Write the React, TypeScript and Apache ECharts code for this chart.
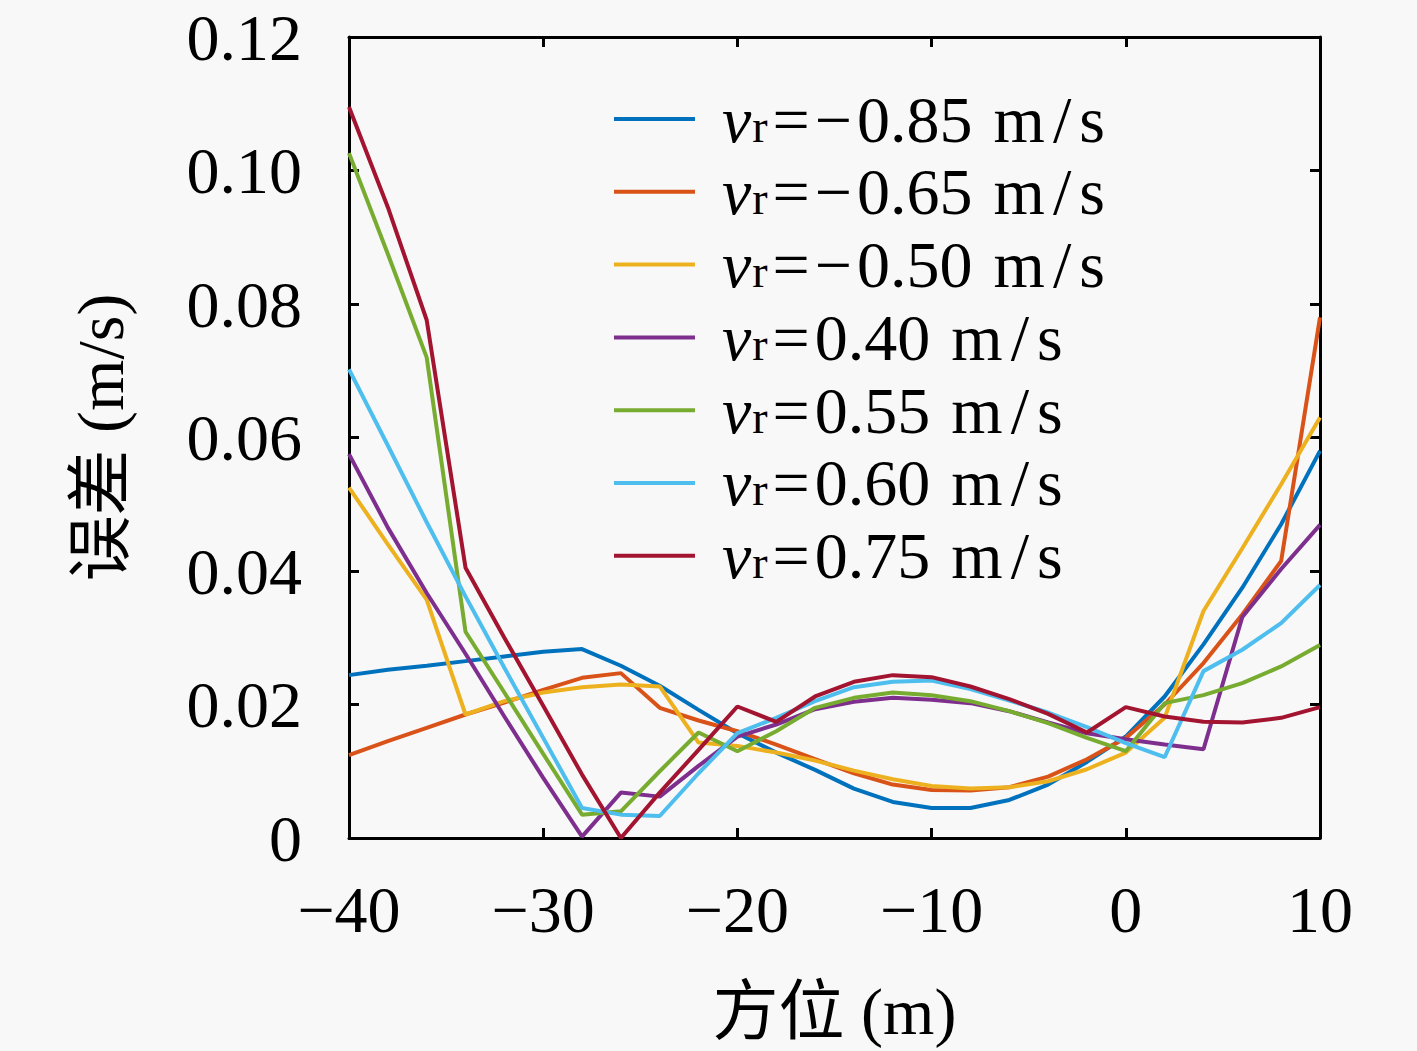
import React, { useEffect, useRef } from "react";
import * as echarts from "echarts";

const xValues = [-40, -38, -36, -34, -32, -30, -28, -26, -24, -22, -20, -18, -16, -14, -12, -10, -8, -6, -4, -2, 0, 2, 4, 6, 8, 10];

const speedLabels = ["−0.85", "−0.65", "−0.50", "0.40", "0.55", "0.60", "0.75"];

const errN085 = [0.0244, 0.0252, 0.0258, 0.0265, 0.0272, 0.0279, 0.0283, 0.0258, 0.0228, 0.0192, 0.0157, 0.0128, 0.0102, 0.0074, 0.0054, 0.0045, 0.0045, 0.0057, 0.0080, 0.0114, 0.0152, 0.0212, 0.0290, 0.0375, 0.0470, 0.0580];
const errN065 = [0.0124, 0.0145, 0.0165, 0.0185, 0.0203, 0.0222, 0.0240, 0.0247, 0.0195, 0.0176, 0.0160, 0.0140, 0.0118, 0.0097, 0.0080, 0.0072, 0.0071, 0.0076, 0.0092, 0.0118, 0.0150, 0.0200, 0.0262, 0.0335, 0.0415, 0.0780];
const errN050 = [0.0525, 0.0440, 0.0357, 0.0185, 0.0205, 0.0218, 0.0226, 0.0230, 0.0227, 0.0143, 0.0138, 0.0128, 0.0116, 0.0101, 0.0088, 0.0078, 0.0074, 0.0076, 0.0085, 0.0103, 0.0128, 0.0180, 0.0340, 0.0434, 0.0530, 0.0630];
const errP040 = [0.0575, 0.0465, 0.0367, 0.0276, 0.0182, 0.0090, 0.0002, 0.0068, 0.0062, 0.0108, 0.0152, 0.0170, 0.0193, 0.0204, 0.0210, 0.0207, 0.0202, 0.0190, 0.0173, 0.0157, 0.0148, 0.0140, 0.0133, 0.0331, 0.0403, 0.0469];
const errP055 = [0.1026, 0.0875, 0.0720, 0.0309, 0.0218, 0.0126, 0.0035, 0.0040, 0.0100, 0.0158, 0.0130, 0.0160, 0.0195, 0.0210, 0.0218, 0.0214, 0.0205, 0.0190, 0.0172, 0.0150, 0.0130, 0.0202, 0.0214, 0.0232, 0.0257, 0.0289];
const errP060 = [0.0702, 0.0588, 0.0473, 0.0362, 0.0255, 0.0150, 0.0045, 0.0035, 0.0033, 0.0097, 0.0157, 0.0180, 0.0205, 0.0226, 0.0234, 0.0236, 0.0223, 0.0206, 0.0188, 0.0166, 0.0142, 0.0121, 0.0250, 0.0282, 0.0322, 0.0379];
const errP075 = [0.1095, 0.0945, 0.0776, 0.0405, 0.0300, 0.0198, 0.0095, 0.0000, 0.0068, 0.0132, 0.0197, 0.0174, 0.0212, 0.0234, 0.0244, 0.0241, 0.0227, 0.0208, 0.0186, 0.0158, 0.0196, 0.0182, 0.0174, 0.0173, 0.0180, 0.0196];

const seriesValues = [errN085, errN065, errN050, errP040, errP055, errP060, errP075];
const colors = ["#0072BD", "#D95319", "#EDB120", "#7E2F8E", "#77AC30", "#4DBEEE", "#A2142F"];

const FONT = "'Liberation Serif', 'DejaVu Serif', 'Noto Sans CJK SC', serif";
const minus = (v: number) => (v < 0 ? "−" + Math.abs(v) : String(v));

export default function App() {
  const ref = useRef<HTMLDivElement>(null);
  useEffect(() => {
    if (!ref.current) return;
    const chart = echarts.init(ref.current, undefined, { renderer: "svg" });
    const names = speedLabels.map((s) => `vr=${s} m/s`);
    const tickCommon = { inside: true, length: 10, lineStyle: { color: "#000", width: 3 } };
    const lineCommon = { show: true, onZero: false, lineStyle: { color: "#000", width: 3 } };
    const base = { fontFamily: FONT, color: "#000", fontSize: 66, lineHeight: 60 };
    chart.setOption({
      animation: false,
      backgroundColor: "#f8f8f8",
      color: colors,
      grid: { left: 349, right: 97, top: 37, bottom: 213 },
      legend: {
        orient: "vertical",
        left: 614,
        top: 86,
        padding: 0,
        itemWidth: 81,
        itemHeight: 4,
        itemGap: 6.8,
        icon: "rect",
        data: names,
        formatter: (name: string) => {
          const i = names.indexOf(name);
          const s = speedLabels[i];
          const neg = s.startsWith("−");
          const rest = neg ? s.slice(1) : s;
          return neg
            ? `{v|v}{r|r}{e|=}{m|−}{t|${rest}}{u|m}{sl|/}{u|s}`
            : `{v|v}{r|r}{e|=}{t|${rest}}{u|m}{sl|/}{u|s}`;
        },
        textStyle: {
          ...base,
          rich: {
            v: { ...base, fontStyle: "italic", padding: [0, 0, 0, 22] },
            r: { fontFamily: FONT, color: "#000", fontSize: 46, lineHeight: 24, verticalAlign: "bottom", padding: [0, 2, 0, 1] },
            e: { ...base, padding: [0, 5, 0, 3] },
            m: { ...base, padding: [0, 5, 0, 0] },
            t: { ...base, padding: [0, 20, 0, 0] },
            u: { ...base, padding: [0, 1, 0, 1] },
            sl: { ...base, padding: [0, 7, 0, 7] },
          },
        },
      },
      xAxis: [
        {
          type: "value",
          min: -40,
          max: 10,
          interval: 10,
          position: "bottom",
          axisLine: lineCommon,
          axisTick: tickCommon,
          splitLine: { show: false },
          axisLabel: { fontFamily: FONT, fontSize: 66, color: "#000", margin: 38, formatter: (v: number) => minus(v) },
          name: "方位 (m)",
          nameLocation: "middle",
          nameGap: 140,
          nameTextStyle: { fontFamily: FONT, fontSize: 66, color: "#000" },
        },
        {
          type: "value",
          min: -40,
          max: 10,
          interval: 10,
          position: "top",
          axisLine: lineCommon,
          axisTick: tickCommon,
          axisLabel: { show: false },
          splitLine: { show: false },
        },
      ],
      yAxis: [
        {
          type: "value",
          min: 0,
          max: 0.12,
          interval: 0.02,
          position: "left",
          axisLine: lineCommon,
          axisTick: tickCommon,
          splitLine: { show: false },
          axisLabel: {
            fontFamily: FONT,
            fontSize: 66,
            color: "#000",
            margin: 47,
            formatter: (v: number) => (v === 0 ? "0" : v.toFixed(2)),
          },
          name: "误差 (m/s)",
          nameLocation: "middle",
          nameGap: 216,
          nameTextStyle: { fontFamily: FONT, fontSize: 66, color: "#000" },
        },
        {
          type: "value",
          min: 0,
          max: 0.12,
          interval: 0.02,
          position: "right",
          axisLine: lineCommon,
          axisTick: tickCommon,
          axisLabel: { show: false },
          splitLine: { show: false },
        },
      ],
      series: seriesValues.map((vals, i) => ({
        name: names[i],
        type: "line",
        xAxisIndex: 0,
        yAxisIndex: 0,
        symbol: "none",
        lineStyle: { width: 4, color: colors[i] },
        itemStyle: { color: colors[i] },
        data: vals.map((v, j) => [xValues[j], v]),
      })),
    });
    return () => chart.dispose();
  }, []);
  return (
    <div
      ref={ref}
      style={{ position: "absolute", left: 0, top: 0, width: 1417, height: 1051 }}
    />
  );
}
